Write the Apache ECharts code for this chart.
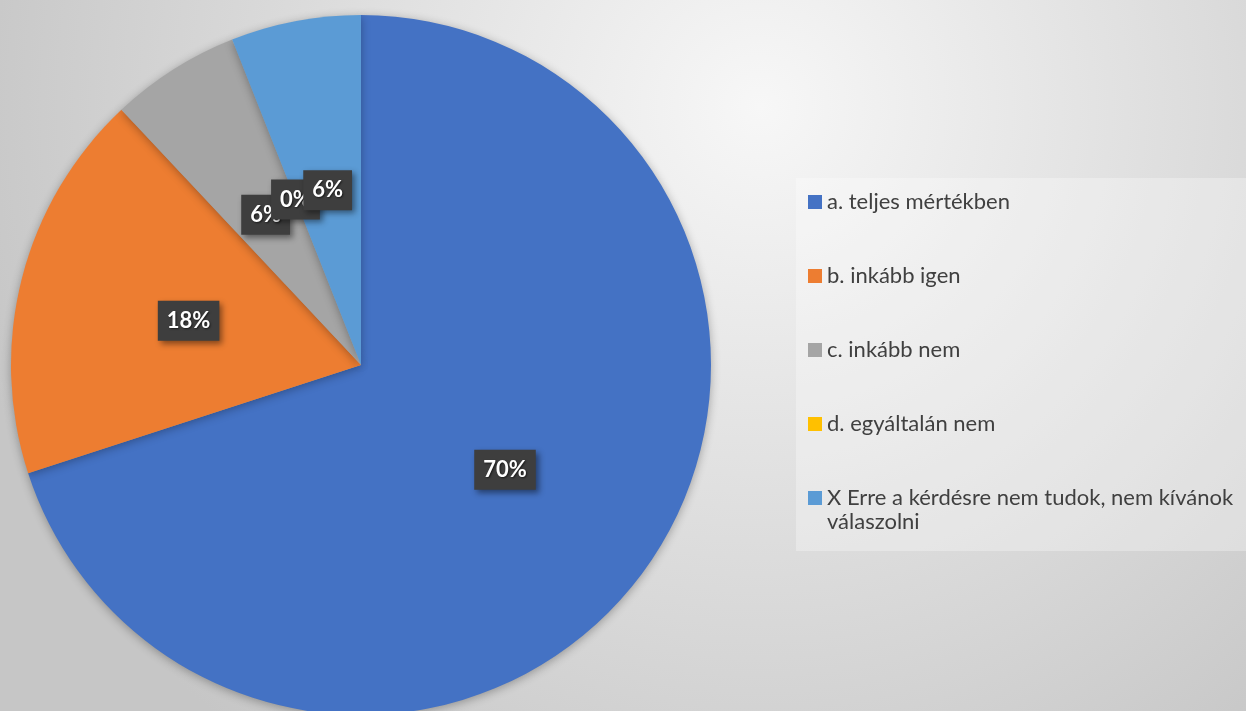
<!DOCTYPE html>
<html>
<head>
<meta charset="utf-8">
<script src="https://cdn.jsdelivr.net/npm/echarts@6/dist/echarts.min.js"></script>
<style>
  html, body { margin: 0; padding: 0; }
  #chart { width: 1246px; height: 711px; }
</style>
</head>
<body>
<div id="chart"></div>
<script>
const categories = [
  'a. teljes mértékben',
  'b. inkább igen',
  'c. inkább nem',
  'd. egyáltalán nem',
  'X Erre a kérdésre nem tudok, nem kívánok válaszolni'
]
const shares = [70, 18, 6, 0, 6]
const colors = ['#4472C4', '#ED7D31', '#A5A5A5', '#FFC000', '#5B9BD5']

const lastName = categories[categories.length - 1]

const legendBase = {
  orient: 'vertical',
  itemWidth: 14,
  itemHeight: 14,
  itemGap: 50,
  icon: 'rect',
  selectedMode: false,
  textStyle: { fontFamily: 'Lato', fontSize: 22, color: '#404040', lineHeight: 24, width: 412, overflow: 'none' }
}

const chart = echarts.init(document.getElementById('chart'), null, { renderer: 'canvas' })

chart.setOption({
  animation: false,
  backgroundColor: new echarts.graphic.RadialGradient(0.61, 0.15, 1.15, [
    { offset: 0, color: '#f7f7f7' },
    { offset: 1, color: '#c6c6c6' }
  ]),
  color: colors,
  legend: [
    // box + first four entries
    Object.assign({}, legendBase, {
      left: 796,
      top: 178,
      padding: [12, 7, 115, 12],
      backgroundColor: 'rgba(255,255,255,0.3)',
      data: categories.slice(0, -1)
    }),
    // the wrapped entry; the leading empty line keeps its first line level with the icon
    Object.assign({}, legendBase, {
      left: 808,
      top: 462,
      padding: 0,
      formatter: (name) => '\n' + name.replace(' válaszolni', '\nválaszolni'),
      data: [lastName]
    })
  ],
  series: [
    {
      type: 'pie',
      center: [361, 365],
      radius: 350,
      startAngle: 90,
      silent: true,
      minShowLabelAngle: -1,
      labelLayout: { hideOverlap: false },
      itemStyle: {
        shadowBlur: 10,
        shadowColor: 'rgba(0,0,0,0.3)',
        shadowOffsetY: 2
      },
      label: {
        show: true,
        position: 'inside',
        formatter: '{c}%',
        fontFamily: 'Lato',
        fontWeight: 'bold',
        fontSize: 22,
        lineHeight: 24,
        color: '#ffffff',
        backgroundColor: '#3e3e3e',
        padding: [8, 9],
        shadowBlur: 6,
        shadowOffsetX: 3,
        shadowOffsetY: 3,
        shadowColor: 'rgba(0,0,0,0.45)',
        textShadowBlur: 2,
        textShadowColor: 'rgba(0,0,0,0.6)',
        textShadowOffsetX: 1,
        textShadowOffsetY: 1
      },
      labelLine: { show: false },
      data: categories.map((name, i) => ({ name, value: shares[i] }))
    }
  ]
})
</script>
</body>
</html>
